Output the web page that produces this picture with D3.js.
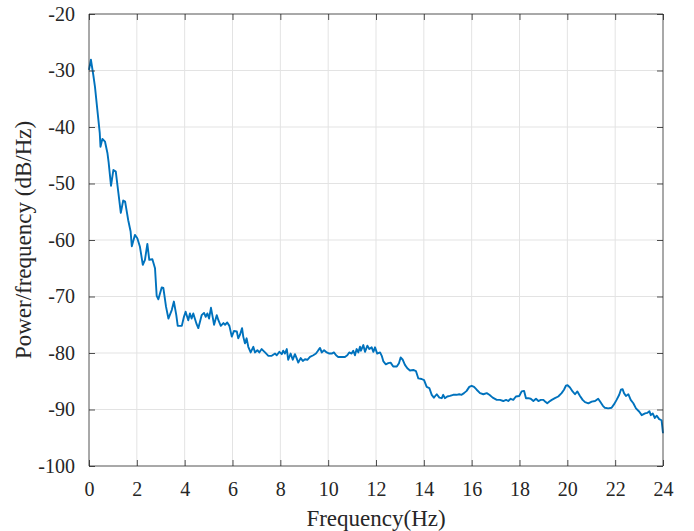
<!DOCTYPE html>
<html>
<head>
<meta charset="utf-8">
<script src="https://cdn.jsdelivr.net/npm/d3@7"></script>
<style>
  html, body { margin: 0; padding: 0; background: #ffffff; }
  svg { display: block; }
</style>
</head>
<body>
<svg id="chart" width="694" height="531"></svg>
<script>
// ---- data ----
const freqHz = [0.00,0.08,0.18,0.25,0.35,0.45,0.48,0.56,0.67,0.77,0.82,0.92,1.02,1.12,1.23,1.33,1.43,1.51,1.64,1.74,1.79,1.92,2.02,2.13,2.25,2.34,2.44,2.52,2.65,2.76,2.83,2.90,3.04,3.11,3.22,3.32,3.46,3.55,3.65,3.71,3.88,3.97,4.04,4.15,4.22,4.29,4.36,4.50,4.57,4.71,4.81,4.88,4.95,5.02,5.10,5.17,5.23,5.34,5.41,5.51,5.62,5.69,5.78,5.87,5.97,6.06,6.18,6.24,6.31,6.40,6.45,6.52,6.59,6.66,6.76,6.87,6.94,7.04,7.12,7.22,7.36,7.50,7.64,7.78,7.85,7.96,8.06,8.12,8.19,8.27,8.33,8.43,8.52,8.61,8.68,8.75,8.85,8.94,9.03,9.13,9.24,9.38,9.49,9.59,9.66,9.73,9.83,9.94,10.05,10.15,10.24,10.33,10.42,10.57,10.70,10.80,10.88,10.98,11.05,11.12,11.19,11.26,11.33,11.37,11.47,11.54,11.64,11.72,11.82,11.89,11.96,12.05,12.17,12.24,12.31,12.41,12.51,12.61,12.72,12.87,12.96,13.03,13.12,13.21,13.31,13.42,13.56,13.67,13.77,13.91,14.01,14.12,14.23,14.33,14.42,14.54,14.65,14.75,14.81,14.88,14.98,15.09,15.23,15.37,15.48,15.58,15.68,15.79,15.90,16.00,16.10,16.21,16.35,16.49,16.63,16.74,16.88,17.05,17.18,17.32,17.44,17.53,17.63,17.74,17.85,17.99,18.09,18.19,18.27,18.37,18.47,18.58,18.69,18.79,18.89,19.00,19.07,19.16,19.25,19.35,19.48,19.62,19.76,19.86,19.94,20.01,20.11,20.22,20.32,20.42,20.53,20.64,20.74,20.88,21.02,21.16,21.29,21.37,21.48,21.57,21.71,21.85,21.95,22.06,22.17,22.24,22.31,22.37,22.45,22.55,22.65,22.76,22.87,23.01,23.11,23.25,23.34,23.43,23.49,23.57,23.66,23.74,23.84,23.94,24.00];
const powerDb = [-29.9,-28.1,-30.8,-32.9,-37.0,-41.1,-43.5,-42.1,-42.6,-44.6,-46.2,-50.4,-47.6,-47.9,-51.7,-55.2,-53.0,-53.2,-56.5,-58.5,-61.1,-59.1,-59.7,-61.2,-64.4,-63.5,-60.7,-63.5,-63.4,-65.0,-69.9,-70.5,-68.4,-68.5,-71.8,-73.9,-72.4,-70.9,-73.3,-75.2,-75.2,-73.6,-72.7,-74.2,-73.0,-73.9,-73.0,-74.9,-75.6,-73.3,-72.9,-73.6,-73.0,-73.9,-72.0,-73.6,-75.0,-73.3,-74.2,-75.2,-74.7,-75.0,-74.6,-75.2,-77.1,-76.1,-76.2,-77.4,-76.8,-75.6,-77.1,-78.3,-77.4,-78.9,-79.9,-78.9,-79.9,-79.5,-79.9,-79.3,-79.9,-80.5,-80.5,-80.1,-80.4,-79.8,-80.2,-79.6,-80.1,-79.3,-81.2,-80.1,-81.2,-80.2,-80.9,-81.7,-80.9,-81.4,-81.1,-81.2,-80.7,-80.4,-80.1,-79.5,-79.1,-79.9,-79.5,-79.9,-80.1,-80.1,-79.9,-80.4,-80.7,-80.7,-80.7,-80.4,-79.9,-80.1,-79.6,-80.4,-79.3,-79.9,-78.9,-79.6,-78.6,-79.8,-78.7,-79.3,-79.0,-79.8,-79.0,-80.1,-79.9,-80.5,-81.5,-82.0,-81.8,-81.7,-82.4,-82.4,-81.8,-80.8,-81.2,-82.1,-82.7,-83.1,-83.0,-83.2,-84.5,-84.6,-84.8,-86.0,-86.2,-87.4,-87.9,-87.3,-87.9,-88.0,-87.4,-88.0,-87.7,-87.6,-87.4,-87.4,-87.3,-87.4,-87.1,-86.7,-86.0,-85.8,-86.0,-86.5,-87.1,-87.3,-87.1,-87.4,-87.9,-88.3,-88.3,-88.5,-88.3,-88.5,-88.1,-88.3,-87.7,-87.6,-86.8,-86.7,-88.0,-88.0,-88.1,-88.5,-88.1,-88.5,-88.3,-88.3,-88.6,-88.9,-88.6,-88.3,-88.0,-87.7,-87.1,-86.5,-85.8,-85.7,-86.1,-86.8,-87.3,-86.8,-87.6,-88.3,-88.7,-88.9,-88.6,-88.5,-88.1,-88.6,-89.3,-89.7,-89.8,-89.7,-89.1,-88.3,-87.4,-86.5,-86.4,-87.1,-87.6,-87.3,-88.3,-88.9,-89.8,-90.4,-91.0,-90.7,-90.6,-90.3,-91.0,-90.7,-91.5,-91.1,-91.7,-91.9,-94.2];
const xTicks = [0,2,4,6,8,10,12,14,16,18,20,22,24];
const yTicks = [-100,-90,-80,-70,-60,-50,-40,-30,-20];
const xLabel = "Frequency(Hz)";
const yLabel = "Power/frequency (dB/Hz)";

// ---- layout ----
const L = 89, R = 663, T = 14, B = 466;
const svg = d3.select("#chart");
const x = d3.scaleLinear().domain([0, 24]).range([L, R]);
const y = d3.scaleLinear().domain([-100, -20]).range([B, T]);
const font = "'Liberation Serif', 'Times New Roman', serif";
const axisColor = "#262626";

// grid
const grid = svg.append("g");
grid.selectAll("line.gx").data(xTicks.slice(1, -1)).enter().append("line")
  .attr("x1", d => x(d)).attr("x2", d => x(d)).attr("y1", T).attr("y2", B)
  .attr("stroke", "#e3e3e3").attr("stroke-width", 1);
grid.selectAll("line.gy").data(yTicks.slice(1, -1)).enter().append("line")
  .attr("y1", d => y(d)).attr("y2", d => y(d)).attr("x1", L).attr("x2", R)
  .attr("stroke", "#e3e3e3").attr("stroke-width", 1);

// line
const line = d3.line().x((d, i) => x(freqHz[i])).y(d => y(d)).curve(d3.curveLinear);
svg.append("path").datum(powerDb)
  .attr("d", line)
  .attr("fill", "none").attr("stroke", "#0072BD").attr("stroke-width", 1.9)
  .attr("stroke-linejoin", "round");

// axes (ticks inward, mirrored)
const tickLen = 6;
const axB = d3.axisBottom(x).tickValues(xTicks).tickSize(-tickLen).tickPadding(tickLen + 10).tickFormat(d3.format("d"));
const axT = d3.axisTop(x).tickValues(xTicks).tickSize(-tickLen).tickFormat("");
const axLft = d3.axisLeft(y).tickValues(yTicks).tickSize(-tickLen).tickPadding(tickLen + 8).tickFormat(d => String(d));
const axRgt = d3.axisRight(y).tickValues(yTicks).tickSize(-tickLen).tickFormat("");

function styleAxis(g) {
  g.select(".domain").attr("stroke", axisColor).attr("stroke-width", 0.8);
  g.selectAll(".tick line").attr("stroke", axisColor).attr("stroke-width", 0.8);
  g.selectAll(".tick text").attr("fill", "#262626").style("font-family", font).style("font-size", "20px");
}
const gB = svg.append("g").attr("transform", `translate(0,${B})`).call(axB); styleAxis(gB);
const gT = svg.append("g").attr("transform", `translate(0,${T})`).call(axT); styleAxis(gT);
const gL = svg.append("g").attr("transform", `translate(${L},0)`).call(axLft); styleAxis(gL);
const gR = svg.append("g").attr("transform", `translate(${R},0)`).call(axRgt); styleAxis(gR);
gB.selectAll(".domain").attr("d", `M${L},0H${R}`);
gT.selectAll(".domain").attr("d", `M${L},0H${R}`);
gL.selectAll(".domain").attr("d", `M0,${T}V${B}`);
gR.selectAll(".domain").attr("d", `M0,${T}V${B}`);

// axis labels
svg.append("text").attr("x", (L + R) / 2).attr("y", 526).attr("text-anchor", "middle")
  .style("font-family", font).style("font-size", "23px").attr("fill", "#262626").text(xLabel);
svg.append("text").attr("transform", `translate(31,${(T + B) / 2}) rotate(-90)`).attr("text-anchor", "middle")
  .style("font-family", font).style("font-size", "23px").attr("fill", "#262626").text(yLabel);
</script>
</body>
</html>
